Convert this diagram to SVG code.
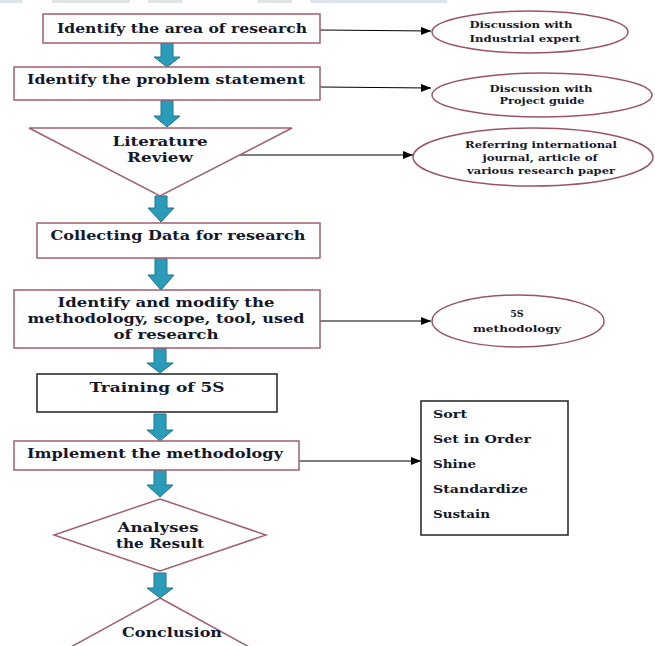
<svg xmlns="http://www.w3.org/2000/svg" width="655" height="646" viewBox="0 0 655 646">
<defs>
<style>
.box{fill:#fff;stroke:#a0606e;stroke-width:1.5}
.blk{fill:#fff;stroke:#222;stroke-width:1.5}
.ell{fill:#fff;stroke:#9a5565;stroke-width:1.5}
.t{font-family:"DejaVu Serif","Liberation Serif",serif;font-weight:bold;fill:#14182a}
.m{font-size:13.5px;text-anchor:middle}
.s{font-size:9.5px;text-anchor:middle}
.l{font-size:11px}
.ba{fill:#2a9bb9;stroke:#1d7690;stroke-width:1}
.con{stroke:#000;stroke-width:1;fill:none;marker-end:url(#ah)}
</style>
<marker id="ah" markerWidth="10" markerHeight="8" refX="10" refY="4" orient="auto" markerUnits="userSpaceOnUse">
<path d="M0,0 L10,4 L0,8 z" fill="#000"/>
</marker>
</defs>
<rect width="655" height="646" fill="#fff"/>
<g id="topstrip" fill="#dfe4e9">
<rect x="0" y="0" width="22" height="3"/>
<rect x="52" y="0" width="78" height="3"/>
<rect x="148" y="0" width="34" height="3"/>
<rect x="258" y="0" width="34" height="3"/>
<rect x="310" y="0" width="137" height="3"/>
</g>
<g id="connectors">
<line class="con" x1="320" y1="30" x2="431" y2="31"/>
<line class="con" x1="320" y1="87" x2="431" y2="88"/>
<line class="con" x1="240" y1="155" x2="413" y2="155"/>
<line class="con" x1="320" y1="321" x2="431" y2="321"/>
<line class="con" x1="299" y1="461" x2="421" y2="461"/>
<path class="ba" d="M161,43 H173 V57 H180 L167,67 L154,57 H161 Z"/>
<path class="ba" d="M161,100 H173 V116 H180 L167,127 L154,116 H161 Z"/>
<path class="ba" d="M155,196 H167 V208 H174 L161,222 L148,208 H155 Z"/>
<path class="ba" d="M155,258 H167 V275 H174 L161,290 L148,275 H155 Z"/>
<path class="ba" d="M154,348 H166 V363 H173 L160,373 L147,363 H154 Z"/>
<path class="ba" d="M154,414 H166 V430 H173 L160,441 L147,430 H154 Z"/>
<path class="ba" d="M154,470 H166 V485 H173 L160,497 L147,485 H154 Z"/>
<path class="ba" d="M154,573 H166 V588 H173 L160,598 L147,588 H154 Z"/>
</g>
<g id="n1"><rect class="box" x="43" y="14" width="277" height="29"/>
<text class="t m" x="182" y="33" textLength="250" lengthAdjust="spacingAndGlyphs">Identify the area of research</text></g>
<g id="n2"><rect class="box" x="14" y="67" width="306" height="33"/>
<text class="t m" x="166" y="84" textLength="278" lengthAdjust="spacingAndGlyphs">Identify the problem statement</text></g>
<g id="n3"><polygon class="box" points="29,128 292,128 160,196"/>
<text class="t m" x="160" y="146" textLength="95" lengthAdjust="spacingAndGlyphs">Literature</text>
<text class="t m" x="160" y="162" textLength="66" lengthAdjust="spacingAndGlyphs">Review</text></g>
<g id="n4"><rect class="box" x="37" y="223" width="283" height="35"/>
<text class="t m" x="178" y="240" textLength="255" lengthAdjust="spacingAndGlyphs">Collecting Data for research</text></g>
<g id="n5"><rect class="box" x="14" y="290" width="306" height="58"/>
<text class="t m" x="166" y="307" textLength="217" lengthAdjust="spacingAndGlyphs">Identify and modify the</text>
<text class="t m" x="166" y="323" textLength="277" lengthAdjust="spacingAndGlyphs">methodology, scope, tool, used</text>
<text class="t m" x="166" y="339" textLength="105" lengthAdjust="spacingAndGlyphs">of research</text></g>
<g id="n6"><rect class="blk" x="37" y="374" width="240" height="38"/>
<text class="t m" x="157" y="392" textLength="135" lengthAdjust="spacingAndGlyphs">Training of 5S</text></g>
<g id="n7"><rect class="box" x="14" y="441" width="285" height="29"/>
<text class="t m" x="155" y="458" textLength="256" lengthAdjust="spacingAndGlyphs">Implement the methodology</text></g>
<g id="n8"><polygon class="box" points="160,499 266,535 160,571 54,535"/>
<text class="t m" x="158" y="532" textLength="81" lengthAdjust="spacingAndGlyphs">Analyses</text>
<text class="t m" x="160" y="548" textLength="88" lengthAdjust="spacingAndGlyphs">the Result</text></g>
<g id="n9"><polygon class="box" points="160,598 300,675 160,752 20,675"/>
<text class="t m" x="172" y="637" textLength="100" lengthAdjust="spacingAndGlyphs">Conclusion</text></g>
<g id="e1"><ellipse class="ell" cx="530" cy="32" rx="98" ry="21"/>
<text class="t s" x="521" y="28" textLength="103" lengthAdjust="spacingAndGlyphs">Discussion with</text>
<text class="t s" x="525" y="42" textLength="111" lengthAdjust="spacingAndGlyphs">Industrial expert</text></g>
<g id="e2"><ellipse class="ell" cx="542" cy="95" rx="110" ry="22"/>
<text class="t s" x="541" y="92" textLength="103" lengthAdjust="spacingAndGlyphs">Discussion with</text>
<text class="t s" x="542" y="104" textLength="85" lengthAdjust="spacingAndGlyphs">Project guide</text></g>
<g id="e3"><ellipse class="ell" cx="533" cy="157" rx="120" ry="29"/>
<text class="t s" x="541" y="148" textLength="152" lengthAdjust="spacingAndGlyphs">Referring international</text>
<text class="t s" x="540" y="161" textLength="115" lengthAdjust="spacingAndGlyphs">journal, article of</text>
<text class="t s" x="541" y="174" textLength="148" lengthAdjust="spacingAndGlyphs">various research paper</text></g>
<g id="e4"><ellipse class="ell" cx="518" cy="321" rx="86" ry="26"/>
<text class="t s" x="517" y="317">5S</text>
<text class="t s" x="517" y="332" textLength="88" lengthAdjust="spacingAndGlyphs">methodology</text></g>
<g id="list"><rect class="blk" x="421" y="401" width="147" height="134"/>
<text class="t l" x="433" y="418" textLength="34" lengthAdjust="spacingAndGlyphs">Sort</text>
<text class="t l" x="433" y="443" textLength="98" lengthAdjust="spacingAndGlyphs">Set in Order</text>
<text class="t l" x="433" y="468" textLength="43" lengthAdjust="spacingAndGlyphs">Shine</text>
<text class="t l" x="433" y="493" textLength="95" lengthAdjust="spacingAndGlyphs">Standardize</text>
<text class="t l" x="433" y="518" textLength="57" lengthAdjust="spacingAndGlyphs">Sustain</text></g>
</svg>
